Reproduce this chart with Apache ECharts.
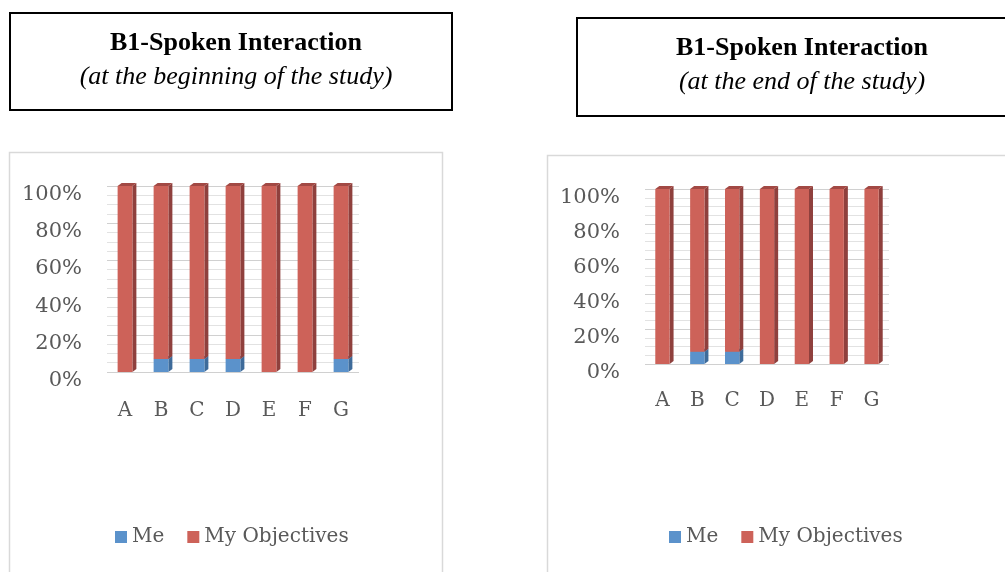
<!DOCTYPE html>
<html>
<head>
<meta charset="utf-8">
<script src="https://cdn.jsdelivr.net/npm/echarts@6/dist/echarts.min.js"></script>
<style>
  html, body { margin: 0; padding: 0; background: #fff; }
  #chart { width: 1005px; height: 572px; }
</style>
</head>
<body>
<div id="chart"></div>
<script>
// data (percent of each bar)
var categories = ["A", "B", "C", "D", "E", "F", "G"];
var meStart = [0, 7, 7, 7, 0, 0, 7];
var objStart = [100, 93, 93, 93, 100, 100, 93];
var meEnd = [0, 7, 7, 0, 0, 0, 0];
var objEnd = [100, 93, 93, 100, 100, 100, 100];

var BLUE = "#5b92cb", BLUE_SIDE = "#3e6b9a";
var RED = "#cd6259", RED_SIDE = "#8f403d", RED_TOP = "#a24944";
var DX = 4, DY = 3;
var BAR_RATIO = 0.41;

// stacked [index, from, to] rows for the custom 3d bars
function stackRows(lower, upper) {
  var me = [], obj = [];
  lower.forEach(function (v, i) {
    me.push([i, 0, v]);
    obj.push([i, v, v + upper[i]]);
  });
  return { me: me, obj: obj };
}

function bar3d(side, top) {
  return function (params, api) {
    var i = api.value(0);
    var lo = api.coord([i, api.value(1)]);
    var hi = api.coord([i, api.value(2)]);
    if (Math.abs(lo[1] - hi[1]) < 0.5) return null;
    var w = api.size([1, 0])[0] * BAR_RATIO;
    var x = lo[0] - w / 2, yB = lo[1], yT = hi[1];
    return {
      type: "group",
      children: [
        { type: "polygon", shape: { points: [[x + w, yB], [x + w + DX, yB - DY], [x + w + DX, yT - DY], [x + w, yT]] }, style: { fill: side } },
        { type: "polygon", shape: { points: [[x, yT], [x + DX, yT - DY], [x + w + DX, yT - DY], [x + w, yT]] }, style: { fill: top } },
        { type: "rect", shape: { x: x, y: yT, width: w, height: yB - yT }, style: { fill: api.visual("color") } }
      ]
    };
  };
}

var start = stackRows(meStart, objStart);
var end = stackRows(meEnd, objEnd);

var labelFont = "DejaVu Serif";
var titleFont = "Liberation Serif";

function xAxis(gi, margin) {
  return {
    type: "category", gridIndex: gi, data: categories,
    axisLine: { show: false }, axisTick: { show: false },
    axisLabel: { color: "#595959", fontFamily: labelFont, fontSize: 20, margin: margin }
  };
}
function yAxis(gi, shift) {
  return {
    type: "value", gridIndex: gi, min: 0, max: 100, interval: 20,
    axisLine: { show: false }, axisTick: { show: false },
    axisLabel: {
      formatter: function (v) { return "{v|" + v + "%}"; },
      margin: 25,
      rich: { v: { color: "#595959", fontFamily: labelFont, fontSize: 21, padding: [shift, 0, 0, 0] } }
    },
    splitLine: { lineStyle: { color: "#d0d0d0", width: 1 } },
    minorTick: { show: false, splitNumber: 4 },
    minorSplitLine: { show: true, lineStyle: { color: "#e2e2e2", width: 1 } }
  };
}
function series(name, gi, rows, color, side, top) {
  return {
    name: name, type: "custom", xAxisIndex: gi, yAxisIndex: gi,
    renderItem: bar3d(side, top), itemStyle: { color: color },
    encode: { x: 0, y: [1, 2] }, data: rows
  };
}
function legend(left) {
  return {
    left: left, top: 527, padding: 0, itemWidth: 12, itemHeight: 12, itemGap: 23, icon: "rect",
    textStyle: { color: "#595959", fontFamily: labelFont, fontSize: 20 },
    data: [{ name: "Me", itemStyle: { color: BLUE } }, { name: "My Objectives", itemStyle: { color: RED } }]
  };
}
function title(text, sub, x, y) {
  return {
    text: text, subtext: sub, left: x, top: y, textAlign: "center", itemGap: 8,
    textStyle: { fontFamily: titleFont, fontWeight: "bold", fontSize: 26, color: "#000" },
    subtextStyle: { fontFamily: titleFont, fontStyle: "italic", fontSize: 26, color: "#000" }
  };
}

var myChart = echarts.init(document.getElementById("chart"));
var option = {
  animation: false,
  title: [
    title("B1-Spoken Interaction", "(at the beginning of the study)", 231, 25),
    title("B1-Spoken Interaction", "(at the end of the study)", 797, 30)
  ],
  graphic: [
    { type: "rect", shape: { x: 10, y: 13, width: 442, height: 97 }, style: { fill: "none", stroke: "#000", lineWidth: 2 } },
    { type: "rect", shape: { x: 577, y: 18, width: 440, height: 98 }, style: { fill: "none", stroke: "#000", lineWidth: 2 } },
    { type: "rect", shape: { x: 9.5, y: 152.5, width: 433, height: 440 }, style: { fill: "none", stroke: "#d9d9d9", lineWidth: 1.5 } },
    { type: "rect", shape: { x: 547.5, y: 155.5, width: 470, height: 440 }, style: { fill: "none", stroke: "#d9d9d9", lineWidth: 1.5 } }
  ],
  legend: [legend(115), legend(669)],
  grid: [
    { left: 107, top: 186, width: 252, height: 186 },
    { left: 645, top: 189, width: 244, height: 175 }
  ],
  xAxis: [xAxis(0, 29), xAxis(1, 27)],
  yAxis: [yAxis(0, 17), yAxis(1, 17)],
  series: [
    series("Me", 0, start.me, BLUE, BLUE_SIDE, BLUE_SIDE),
    series("My Objectives", 0, start.obj, RED, RED_SIDE, RED_TOP),
    series("Me", 1, end.me, BLUE, BLUE_SIDE, BLUE_SIDE),
    series("My Objectives", 1, end.obj, RED, RED_SIDE, RED_TOP)
  ]
};
myChart.setOption(option);
</script>
</body>
</html>
